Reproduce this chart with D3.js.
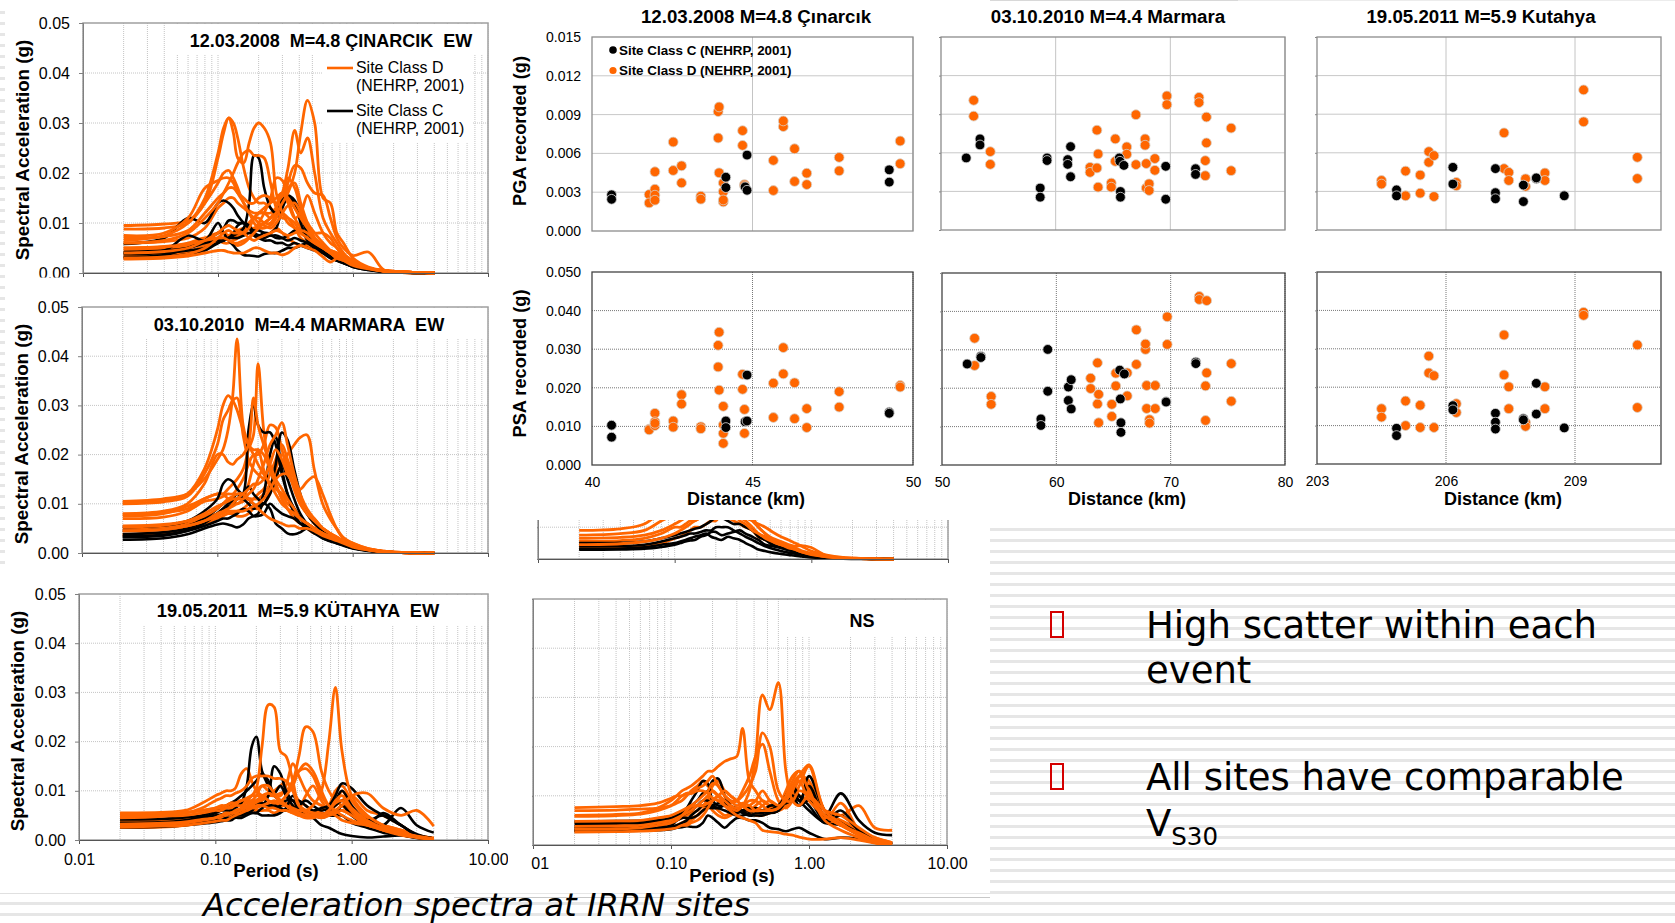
<!DOCTYPE html>
<html>
<head>
<meta charset="utf-8">
<style>
html, body { margin: 0; padding: 0; background: #fff; }
svg { display: block; font-family: "Liberation Sans", Arial, sans-serif; }
</style>
<script src="https://cdn.jsdelivr.net/npm/d3@7"></script>
</head>
<body>
<svg id="chart" width="1675" height="923"></svg>
<script>
// periods (s) shared by all the spectra, values below are in 0.001 g
var periods = [0.02,0.04,0.06,0.08,0.10,0.11,0.12,0.13, 0.14,0.155,0.17,0.185,0.20,0.22,0.245,0.27, 0.30,0.33,0.37,0.41,0.46,0.52,0.60,0.68, 0.76,0.85,1.0,1.3,1.7,2.3,3.0,4.0];

var ew2008D = [
 [6.5,7.5,10,15,24,29,31,28, 23,22,26,29,30,29,26,16, 12,10,9,8,7,6,5,4.5, 4,3,2,1,.5,.2,.1,0],
 [9.5,9.8,10.5,14,23,28,31,30, 27,21,17,15,14,14,13,12, 12,11,9,7,6,5,4,3.5, 3,2.5,2,1,.5,.2,.1,0],
 [5,5.2,5.8,6.5,7,7,6.5,6, 6,6.5,7,8,9,10,11,12, 14,16,20,28,34.5,30,15,14, 8,6,3,1.2,.5,.2,.1,0],
 [4.5,4.8,5.5,7,8,8,7.5,7.5, 8,9,10,11,12,12,11,13, 16,21,28.5,24,27,20,11,8, 6,4,2.2,1,.4,.2,.1,0],
 [6,6.5,8,11,14,16,18,20, 22,24,24.5,23.5,23.5,23,18,13, 11,11,10,8,7,6,5,4, 3.5,3,2,1,.4,.2,.1,0],
 [8.8,9,10,14,18,20,20.5,19, 17,14,12.5,12,12,12,12,13, 14,15,13,11,9,7,5.5,4.5, 4,3,2,1,.4,.2,.1,0],
 [7.5,8,11,17,18.5,19,19,18, 16,14,12,11,10,9.5,9,10, 12,13.5,14,12,9,7,5,4, 3,2.5,1.8,.9,.4,.2,.1,0],
 [3.5,3.7,4.3,5.5,6.5,7,7.5,8, 8.5,9,9,9,9.5,10,11,13, 15,18,21.5,21,18,16,15.5,11, 7,5,3.5,4.2,.6,.2,.1,0],
 [3,3.2,3.8,5,7,8,8.5,8, 8,8,9,11,12,13,14,15, 16,14,11,12,15.5,12,8,6, 5,3,2,1,.4,.2,.1,0],
 [6,6.3,7,9,13,14,15,15, 14,13,12,10,9,9,9.5,11, 14,19,17,13,10,8,6,4.5, 3.5,3,2,1,.4,.2,.1,0],
 [2.8,3,3.4,4,4.5,4.5,4.2,4, 4,4,4.5,5,5,4.5,4,4, 3.6,4,5,5.5,5,4.5,3.2,2.2, 3,3.5,2.5,1,.4,.2,.1,0],
 [5,5.3,6,7,6.5,6,6,6.5, 7,8,8,7.5,7,7,8,9, 8,7,6,5.5,5.5,5,4.5,4, 3,2.5,1.5,.8,.3,.1,0,0],
 [4,4.3,5,6.5,8,9,9.5,9, 8.5,8,7,6.5,7,7.5,8,8.5, 8,7.5,8,8.5,8,6.5,5,4, 3,2.5,1.5,.8,.3,.1,0,0],
 [3.2,3.4,4,5.5,6.5,7,7,7, 7.5,8.5,10,11,11,10,10,12, 15,17,18,14,10,7,5,4, 3.5,3,2,1,.4,.2,.1,0],
 [7,7.3,8.5,12,15,16,17,17, 16,15,14,14,15,15.5,15,14, 16,15,13,11,9,8,8,7, 5,3.5,2,1,.4,.2,.1,0],
 [4,4.2,5,6,7,7,6.5,6, 5.5,6,7,8.5,10,12,15,19, 18.5,15,11,9,7,6,5,4, 3,2.5,1.5,.7,.3,.1,0,0]
];
var ew2008C = [
 [5.8,7,11,10,14,14.5,14,13, 11.5,10,9,8.5,8.5,8,7.5,7.5, 7,6.5,7,6.5,6,5,4,3, 2.5,2,1.3,.7,.3,.1,0,0],
 [4,4.5,7.5,6.5,10,8,6.5,5.5, 4.5,3.6,3.5,3.4,3.3,3.8,4,4, 4.5,5,5,5.5,6,5,4,3, 2.5,2,1.2,.6,.3,.1,0,0],
 [3.8,4,4.5,5,6,6.5,7,7.5, 8,9,14,23.5,23,17,13,12, 14.5,15.5,14.5,11.5,8,6,4.5,3.5, 3,2.3,1.5,.8,.4,.1,0,0],
 [3.2,3.6,5,6.5,8,9,10.5,10.5, 10,10,9.5,8,7.5,7,7.5,7, 7,7.5,8.5,8.5,6.5,5,4,3.5, 2.8,2.2,1.4,.7,.3,.1,0,0],
 [3,3.2,3.8,4.5,6,6.5,7,8, 9.5,10,9,7.5,7,6.5,6.5,6, 6,5.5,6,5.5,5,4.5,4,3.2, 2.5,2,1.2,.6,.2,.1,0,0],
 [4.2,4.5,5,6,6.5,6.5,7,7, 7,7.5,8,8,7.5,8,8,9, 13,15,14,10,7,5.5,4.5,3.5, 3,2.3,1.4,.7,.3,.1,0,0]
];

var ew2010D = [
 [10.5,11,12,15,19,21,25,32, 43.5,26,22,21,21,20,17,14, 11,9,8,7,6,5,4,3, 3,2.5,1.6,.8,.3,.1,0,0],
 [7.5,8,9.5,11,12,12,13,14, 15,17,21,24,38.5,25,17,14, 11,9,7,6,5,4,3.5,3, 2.5,2,1.2,.6,.2,.1,0,0],
 [10.2,10.6,12,17,25,30,32,31, 29,25,22,20,18,16,14,12, 10,9,8,7,6,5,4,3.2, 2.8,2.2,1.4,.7,.3,.1,0,0],
 [10,10.4,11.5,16,22,27,29,31, 31.5,24,19,17,16,15,14,13, 12,10,9,7,6,5,4,3, 2.8,2.2,1.4,.7,.3,.1,0,0],
 [8,8.5,10,14,20,20,18.5,18, 19,20,22,31.5,26,22,18,15, 13,11,9,7,6,5,4,3.5, 3,2.3,1.5,.7,.3,.1,0,0],
 [7,7.3,8.5,10.5,11,11.5,12,12, 13,15,18,20,20,22,26,25.5, 21,17,13,10,8,6.5,5,4, 3.2,2.5,1.5,.8,.3,.1,0,0],
 [5.3,5.6,6.5,8,9.5,10,10.5,11, 11,11,12,13,15,18,22,24, 26.5,22,16,12,9,7,5,4, 3.3,2.5,1.5,.7,.3,.1,0,0],
 [5,5.3,6,7,8,8.5,9,9.5, 10,10.5,11,11,11,12,14,16, 18,20,22,23.5,24,17,10,7, 5,3.2,2,.9,.4,.1,0,0],
 [4.5,4.8,5.5,6.5,7.5,8,8.5,8.5, 8.5,8.5,9,9.5,10,11,13,15, 16,16,14,13,14.5,15.5,12,8, 5,3,2,.9,.4,.1,0,0],
 [7.8,8.2,9,11,12,12,11,10.5, 10,11,14,18,21,17,14,13, 12,11,9,7,6,5,4,3, 2.5,2,1.2,.6,.2,.1,0,0],
 [4.5,4.8,5.5,6.5,8,8.5,9,10, 11,12,13,14,14,15,18,21, 19,16,14,11,8,6.5,5,4, 3.2,2.5,1.5,.7,.3,.1,0,0],
 [3.8,4.2,5,6.5,8,8.5,8.5,8, 7.5,7.5,8,9,9,10,12,17, 20,18,13,10,8,7,5,4, 3,2.5,1.4,.7,.3,.1,0,0],
 [5.5,5.8,6.5,7.5,9,10,11,11.5, 12,12,11,10,9,8,7,6.5, 6,5.5,5.5,5,5,4.5,3.5,3, 2.5,2,1.2,.6,.2,.1,0,0],
 [3.6,4,5,6,7,7.5,8,8, 8.5,9,10,11,12,13,16,19, 22,19,15,11,8,6,4.5,3.5, 3,2.3,1.4,.7,.3,.1,0,0]
];
var ew2010C = [
 [3.2,3.5,4.5,6,8,9,10,10.5, 11,12,25,30,26,24.5,24.5,22, 16,12,9,7,5.5,4.5,3.5,2.8, 2.2,1.7,1,.5,.2,.1,0,0],
 [5.3,5.6,6.5,8.5,11,14,15,14.5, 13,12,13.5,12,11,10,13,18, 24.5,23,17,12,8,6,4.5,3.5, 2.8,2.2,1.4,.7,.3,.1,0,0],
 [4.5,4.8,5.5,7,9,10,10.5,11, 12,11,10,9,9.5,12,20,23.5, 17,12,8,6,5,4,3,2.5, 2,1.6,1,.5,.2,.1,0,0],
 [2.7,3,3.8,5,5.8,6,5.8,5.5, 5.2,5.8,7,7.5,8,10,9,6, 5,4,3.8,4.2,5,4.5,3,2.4, 2,1.5,.9,.4,.2,.1,0,0],
 [3.8,4.2,5,6.5,8,9,9.5,10, 11,12,11,10,9.5,10,12,15, 18,15,11,8,6,5,4,3, 2.5,1.9,1.2,.6,.2,.1,0,0],
 [3.4,3.7,4.5,5.5,6.5,7,7,7.5, 8,9,8.5,7.5,7.5,8,10,9, 8,7.5,7,6,5.5,4.5,3.5,3, 2.3,1.8,1.1,.5,.2,.1,0,0]
];

var ew2011D = [
 [4.5,4.8,5.5,6,6.5,6.5,7,7.5, 7.5,8,8.5,9,10.5,19,27.5,27, 18,17,12,7,5.5,5,5,5.5, 5,4,3.5,3,2.5,1.5,.6,.2],
 [3.5,3.7,4,5,6,6.5,7,7, 7.5,7.5,8,8,8,8.5,9,9, 9.5,10,12,17,23,22,14,10, 8,7,5.5,3.5,2.5,1.5,.8,.3],
 [3,3.2,3.5,4,4.5,5,5,5.5, 5.5,6,6,6.5,6.5,7,7.5,8, 7.5,7,6.5,6,6,7,10,20, 31,18,9,5,3,1.5,.8,.3],
 [5.5,5.6,6,7.5,9,9.5,10,10, 10.5,13.5,14.5,12,10,9,8,7.5, 7,7,8,7,6,5.5,5,5, 5.5,7,6,4,3,2,1,.4],
 [5,5.2,5.5,6.5,8,8.5,9,9, 9.5,10,11,12.5,13,13,13,12.5, 12.5,12,10,7,6,5.5,5,5, 5.5,6,5,3,2.5,1.5,.7,.2],
 [4,4.2,4.5,5,5.5,6,6.5,7, 7.5,8,8,9,10,11,10,9, 9,11,15.5,13,10,8,7,6, 6,7,5,4,3,2,1,.4],
 [3.2,3.4,3.7,4.2,4.5,5,5.5,5.5, 6,6.5,7,7.5,8,9,9.5,9, 8,9,11,14,15.5,14,10,7, 6,5,4,3,2,1.2,.6,.2],
 [2.8,3,3.3,3.8,4.5,4.5,5,5, 5,5.5,6,6.5,7,7.5,7,7, 7.5,9,12,14,14.5,13,9,7, 7,10,7,4,3,1.5,.8,.3],
 [5.3,5.4,5.6,6,6.5,7,7,7.5, 7.5,8,8.5,9,9,9,8,7.5, 8,7,6,5.5,5,5,4.5,5, 6,7,9,9.5,6.5,5,6,2.8],
 [2.5,2.6,3,3.5,3.8,4,4,4.5, 4.5,5,5.5,6,6,6,6,5.5, 6,6,5.5,5,5,5.5,6,7, 10,11,8,4.5,3,1.5,.7,.2],
 [4.7,4.9,5,5.5,6,6,6.5,6.5, 7,7,7.5,8,9,11,11,9.5, 8,7,6,5.5,5,5,5,6, 8,9,6.5,4,2.5,1.5,.7,.2],
 [3.8,4,4.2,4.5,5,5,5.5,5.5, 5.5,6,6.5,7,8,8.5,9,10, 11,12,10,8,7,6,5.5,5.5, 7,8,9,6,5,3,1,.3],
 [2.6,2.8,3,3.4,3.8,4,4,4.5, 5,5.5,6,6.5,7,7,6.5,6.5, 6,6,5.5,5,4.5,4.5,5,6, 7.5,8,6,3.5,2,1,.5,.1],
 [3.3,3.5,3.8,4.3,5,5,5.5,6, 6,6,6.5,7,7.5,8,9,9, 8,7.5,7,6.5,9,11,8,6, 6,6,5,3,2,1,.5,.1]
];
var ew2011C = [
 [3,3.1,3.5,4.2,5,5.2,5.5,6, 6.5,7.5,11,19,21,14,11,9, 8,7,6.5,6,5.5,5,5,5, 5,5,3.5,2.5,1.5,1,.4,.1],
 [4.2,4.3,4.6,5,6,6.5,7,7.5, 8,9,10,11,12,13.5,12,9.5, 11,9,7,5.5,5,5,4.5,5, 5,7,5,3,5.5,3,1.2,.3],
 [3,3.1,3.4,3.8,4,4,4.5,4.5, 5,5,5.5,6,7,7,9,15, 13.5,10,8,8,7,6,6.5,7, 9,11.5,10.5,7,5,3,1,.3],
 [2.6,2.7,3,3.3,3.6,3.8,4,4, 4.5,4.5,5,5.5,5.5,5,5,5, 5.5,6.5,9,7,5,4.5,3,2.5, 1.8,1.2,.8,.5,.7,.9,.5,.1],
 [2.8,2.9,3.2,3.8,4.5,5,5,5.5, 5.5,5.5,6,6,7,7.5,7,6.5, 7,8,8,6,5,5,5,6, 7,8,6,4,3,6.5,3,1.5],
 [3.5,3.6,4,4.6,5.5,6,6,6, 6,6,5.5,5.5,5.5,6.5,7,7, 6.5,6,6.5,7,8,7,6,6.5, 8,10,7,4,5,3,1,.3]
];

var ns2011D = [
 [7.6,7.8,8,8.5,9.5,10,10,10.5, 10.5,11,11,10.5,9.5,9,8,7.5, 7,8,11,18,30.5,27.5,33,15, 9,8,10,7,6,3.5,1.5,.5],
 [6,6.2,6.5,7.5,9,10,11,11.5, 12,13,14,15,15,16,17,17.5, 18,23.7,13,11,9,8,7.5,8, 9,10,9,6,4.5,3,1.5,.5],
 [5.8,6,6.3,7,8,9,10,10.5, 10.5,11.5,12,13,14,12,10,9, 9,10,12,15,22.8,20,11,9, 9,11,10,6,4,2.5,1,.3],
 [7,7.1,7.3,7.5,8,8.5,9,10, 11,12,13,12,11,10,9,8.5, 9,11,14,18,20.5,15,9,7.5, 9,12,16,7,5,3,1,.3],
 [3.2,3.3,3.5,4,4.5,5,6,7, 8,9,10,11,12.5,12,10,9, 8,8.5,8,7,7,7,7.5,9, 11,14,16.3,7,4.5,2,.5,.1],
 [4.5,4.6,4.8,5,5.5,6,6.5,7, 7.5,8,8,8,7,6,5.5,6, 7,8,7.5,7,7,7.5,8,11, 14,15,10,6,5,3,1,.3],
 [3.8,3.9,4,4.5,5,5.5,6,6.5, 7,8,9,10,11,10,8,7, 6,5.5,5,4.5,3,2.7,2.5,2.2, 2,1.6,1.2,1.2,1.5,1,.4,.1],
 [2.9,3,3.1,3.3,3.5,4,4.5,5, 5.5,6,7,8,8,7,6,6.5, 7,7,6.5,6,6,6.5,7,9, 12,14,13,5.5,4,2.5,.8,.1],
 [2.6,2.7,2.8,3,3.3,3.5,4,4, 4.5,5,6,7.5,9,10,9,8, 7.5,8,9,9,8,7,7.5,10, 13,15,11,5,3,1.5,.5,.1],
 [3.5,3.6,3.8,4,4.5,5,5.5,6, 6.5,7,8,9,9.5,9,8,7, 6.5,7,8,9,11,9,7.5,8, 10,13,12,7,6,8,3.5,3],
 [4.8,4.9,5,5.5,6,6.5,7,7.5, 8,8,8,8.5,9,10,11,10, 9,8,7,7,8,9,8,9, 12,13,9,6,4,2,.6,.2],
 [2.8,2.9,3,3.2,3.5,3.8,4,4.5, 5,6,7,9,12,13,11,10, 9,8,7,8,9,8,7,8, 11,14,12,5,8.5,3,1,.2]
];
var ns2011C = [
 [4.8,4.85,4.9,5,5.5,6,6.5,7.5, 9,11,13,12.5,9,8,8,7.5, 7,6.5,6,6,6,6.5,7,9, 10,9,7,4.5,4,2,.8,.2],
 [3.4,3.45,3.5,3.6,4,5,6,7, 8,9,10.5,11,13,13.5,10,8, 7.5,7,6,6.5,6.5,7,8,9, 10,8,14,7,4.5,2.5,1,.2],
 [2.8,2.85,2.9,3,3.2,3.5,3.6,3.8, 3.7,3.7,4.5,6,5.5,4.5,3.5,4.5, 5.5,5.5,5,5,4.5,3.5,3.2,2.8, 3.2,3.5,2.5,1.2,1.5,1.2,.5,.1],
 [3.8,3.85,3.9,4,4.5,5,5.5,5.5, 5.5,6,7,7.5,7.5,7.5,8,7, 6.5,7,7,7.5,7,7,8,10, 12,9,12,6,10.5,5,2.5,2],
 [3,3.05,3.1,3.3,3.7,4,4.5,5, 6,7,8,8,8,8.5,8.5,7.5, 7,7,7.5,7,7,8,8,8.5, 9,8,9,5,7,3,1.2,.3],
 [4.3,4.35,4.4,4.6,5,5.5,6,6.5, 7,8,9,9,8,7.5,7,6.5, 6,6,6.5,7,7,6.5,7,9, 12,10,8,4.5,6,3,1,.3]
];

// the panel behind the scatter plots, only its lower part shows
var hiddenD = [
 [9,9.5,11,15,18,20,22,20, 18,17,18,20,22,20,18,16, 14,13,12,11,10,8.5,7,6, 5,4,2.5,1.2,.5,.2,.1,0],
 [7.5,8,9,12,14,15,15,16, 16,16,18,19,20,19,18,16, 15,14,13,10,8,6.5,5.5,4.5, 4,4.2,3.6,1,.4,.2,.1,0],
 [6.5,6.8,7.5,9,11,12,13,14, 15,15,14,14,15,16,17,18, 17,15,12,10,8,6,5,4, 3,2.2,1.5,.7,.3,.1,0,0],
 [5.5,5.8,6.5,8,10,10,11,12, 12,13,13,14,14,15,16,14, 13,12,10,8,7,6,5,4, 3.5,2.6,1.8,.8,.3,.1,0,0],
 [4.5,4.8,5.5,6.5,8,9,10,11, 12,13,14,14,14,14,15,14, 12,11,9,8,6.5,5.5,4.5,3.5, 3,2.2,1.4,.7,.3,.1,0,0],
 [3.5,3.7,4.2,5,6.5,7,8,9, 10,10,11,12,12,14,13,12, 11,10,9,7,6,5,4,3.2, 2.8,2,1.4,.6,.2,.1,0,0]
];
var hiddenC = [
 [5,5.1,5.5,6.5,7.5,8,8.5,9, 9.5,10,11,12,13,13,12,11, 11,10,9,7,6,4.5,3.5,2.8, 2.4,1.8,1,.4,.2,.1,0,0],
 [4,4.1,4.5,5.5,6.5,7,7.5,8, 8,8.5,9,9,10,10,10,9, 8,7,6,5,4,3.2,2.5,2, 1.7,1.3,.8,.4,.2,.1,0,0],
 [3.2,3.3,3.7,4.5,5,5.5,6,6.5, 7,7.5,8,7,6.5,6,7,6.5, 6,5,4,3,2.5,2,1.6,1.3, 1,.8,.5,.3,.1,0,0,0],
 [2.9,3,3.2,3.8,4.5,5,5.5,5.8, 6,7,7.5,8.5,8.5,7.5,8,8.5, 9,8,7,6,4.5,4,3.5,2.8, 2.2,1.7,1,.5,.2,.1,0,0]
];

// scatter plots, distance in km, PGA and PSA in 0.001 g
var dist2008D = [41.78,41.78,41.96,41.96,41.96,41.96,42.53,42.53,42.79,42.79,43.39,43.39,43.93,43.96,43.93,43.96,44.09,44.09,44.09,44.09,44.69,44.69,44.75,44.75,45.65,45.65,45.96,45.96,46.31,46.31,46.69,46.69,47.7,47.7,49.6,49.6];
var pga2008D = [2.82,2.17,4.58,3.23,2.77,2.38,6.88,4.68,5.04,3.72,2.69,2.46,9.23,9.59,7.19,4.5,3.72,3.03,2.25,2.4,7.76,6.62,3.59,3.5,5.46,3.13,8.07,8.51,6.36,3.83,4.47,3.59,5.69,4.65,6.96,5.2];
var psa2008D = [9.3,9.1,13.4,11.2,10.2,10.8,11.4,9.8,18.2,15.8,9.9,9.4,31,34.4,25.4,19.4,15.2,10.4,8.2,5.6,23.5,19.6,14.4,8.2,21.2,12.3,30.4,23.6,21.3,12,14.6,9.7,19,15,20.6,20.2];
var dist2008C = [40.61,40.61,44.17,44.17,44.77,44.83,44.83,49.26,49.26];
var pga2008C = [2.8,2.45,4.16,3.36,3.41,3.15,5.87,4.73,3.78];
var psa2008C = [10.3,7.2,11.4,9.7,11.2,11.4,23.3,13.7,13.4];

var dist2010D = [52.85,52.85,54.3,54.3,63.0,63.0,63.6,63.6,63.7,63.7,64.85,64.85,65.2,65.2,66.2,66.2,67,67,67.8,67.8,67.9,67.9,68.15,68.15,68.65,68.65,69.7,69.7,72.5,72.5,73.15,73.15,73.05,73.05,75.3,75.3];
var pga2010D = [10.08,8.85,6.09,5.1,4.87,4.48,7.76,4.82,5.91,3.33,3.65,3.33,7.08,5.34,6.46,5.89,8.96,5.08,7.08,6.59,5.16,3.26,3.59,3.07,5.55,4.64,10.42,9.74,10.31,9.9,8.78,6.77,5.39,4.22,7.92,4.61];
var psa2010D = [33,25.9,17.85,15.8,22.6,19.9,26.6,15.9,18.4,11,15.8,12.65,23.9,20.6,24,18,35.2,26.2,30.1,31.5,20.7,14.7,11.8,10.9,20.7,14.7,38.6,31.4,43.9,43.1,42.8,24,20.6,11.6,26.4,16.6];
var dist2010C = [52.2,53.4,53.4,58.65,58.65,59.25,59.25,61.05,61.05,61.3,61.3,65.65,65.65,65.55,65.6,65.95,69.6,69.6,72.2,72.2];
var pga2010C = [5.6,7.08,6.61,3.26,2.55,5.6,5.4,5.47,5.1,6.48,4.14,2.99,2.55,5.6,5.34,5.02,4.95,2.39,4.76,4.32];
var psa2010C = [26.3,28.3,28,12,10.3,30.1,19.2,16.8,20.3,22.2,14.6,11,8.5,24.7,17.2,23.7,16.5,16.4,26.8,26.4];

var dist2011D = [204.5,204.5,205.06,205.06,205.4,205.4,205.6,205.6,205.72,205.72,206.24,206.24,207.35,207.35,207.46,207.46,207.85,207.85,208.3,208.3,209.2,209.2,210.45,210.45];
var pga2011D = [3.85,3.57,4.58,2.66,4.27,2.86,6.09,5.26,5.78,2.6,3.7,3.44,4.77,7.55,4.48,3.85,3.98,3.39,4.43,3.85,10.89,8.41,5.65,4];
var psa2011D = [14.4,12.2,16.4,10,15.3,9.5,28.1,23.7,23,9.5,15.7,13.4,23.2,33.6,20.1,14.4,10.8,9.8,20.1,14.4,39.5,38.7,31,14.7];
var dist2011C = [204.85,204.85,206.16,206.16,207.15,207.15,207.15,207.8,207.8,208.1,208.1,208.75];
var pga2011C = [3.12,2.66,4.87,3.57,4.77,2.9,2.43,3.49,2.21,3.98,4.05,2.66];
var psa2011C = [9.3,7.4,15.2,14.1,13.2,10.9,9.1,11.8,11.5,21,13,9.4];

var yTicksSpectra = [0,10,20,30,40,50];
var xTicksSpectra = [0.01,0.1,1,10];
var legendLabels = ["Site Class C (NEHRP, 2001)","Site Class D (NEHRP, 2001)"];

var orange = "#ff6600";
var svg = d3.select("#chart");

// striped slide background, the pasted pictures sit on white boxes over it
svg.selectAll("rect.stripe").data(d3.range(0, 84)).enter().append("rect")
   .attr("class", "stripe")
   .attr("x", 0).attr("width", 1675)
   .attr("y", function(d) { return 11 + d * 11; })
   .attr("height", 3)
   .attr("fill", "#e6e6e6");

function whiteBox(x, y, w, h) {
   svg.append("rect").attr("x", x).attr("y", y).attr("width", w).attr("height", h).attr("fill", "#fff");
}
whiteBox(5, 0, 985, 893);
whiteBox(990, 0, 685, 527);
whiteBox(0, 0, 5, 10);
whiteBox(0, 566, 5, 327);
svg.append("rect").attr("x", 500).attr("y", 0).attr("width", 1175).attr("height", 1).attr("fill", "#ececec");
svg.append("rect").attr("x", 990).attr("y", 0).attr("width", 248).attr("height", 1).attr("fill", "#d8d8d8");
svg.append("rect").attr("x", 0).attr("y", 893).attr("width", 454).attr("height", 1).attr("fill", "#e0e0e0");
svg.append("rect").attr("x", 454).attr("y", 897).attr("width", 536).attr("height", 1).attr("fill", "#c8c8c8");

function drawSpectra(o) {
   var x = d3.scaleLog().domain([0.01, 10]).range([o.left, o.right]);
   var y = d3.scaleLinear().domain([0, 50]).range([o.bottom, o.top]);
   var g = svg.append("g");

   // grid
   g.selectAll("line.v").data(x.ticks()).enter().append("line")
    .attr("x1", function(d) { return x(d); }).attr("x2", function(d) { return x(d); })
    .attr("y1", o.top).attr("y2", o.bottom)
    .attr("stroke", "#c4c4c4").attr("stroke-dasharray", "1,1");
   g.selectAll("line.h").data(yTicksSpectra.slice(1, 5)).enter().append("line")
    .attr("y1", function(d) { return y(d); }).attr("y2", function(d) { return y(d); })
    .attr("x1", o.left).attr("x2", o.right)
    .attr("stroke", "#c4c4c4").attr("stroke-dasharray", "1,1");

   // white boxes behind the title and legend
   o.boxes.forEach(function(b) {
      g.append("rect").attr("x", b[0]).attr("y", b[1]).attr("width", b[2]).attr("height", b[3]).attr("fill", "#fff");
   });

   g.append("rect").attr("x", o.left).attr("y", o.top)
    .attr("width", o.right - o.left).attr("height", o.bottom - o.top)
    .attr("fill", "none").attr("stroke", "#a0a0a0").attr("stroke-width", 1.5);

   var line = d3.line()
      .x(function(d, i) { return x(periods[i]); })
      .y(function(d) { return y(d); })
      .curve(d3.curveCatmullRom.alpha(0.5));

   function drawSet(rows, color, w) {
      g.append("g").selectAll("path").data(rows).enter().append("path")
       .attr("d", line).attr("fill", "none")
       .attr("stroke", color).attr("stroke-width", w).attr("stroke-linejoin", "round");
   }
   // black goes between the orange ones, like in the original
   drawSet(o.siteD.filter(function(d, i) { return i % 2 == 1; }), orange, 2.8);
   drawSet(o.siteC, "#000", 2.6);
   drawSet(o.siteD.filter(function(d, i) { return i % 2 == 0; }), orange, 2.8);

   var ax = g.append("g").attr("transform", "translate(0," + o.bottom + ")")
      .call(d3.axisBottom(x).tickValues(xTicksSpectra).tickSize(4)
      .tickFormat(o.xLabels ? d3.format(".2f") : ""));
   var ay = g.append("g").attr("transform", "translate(" + o.left + ",0)")
      .call(d3.axisLeft(y).tickValues(yTicksSpectra).tickSize(o.yLabels ? 4 : 1)
      .tickFormat(o.yLabels ? function(d) { return d3.format(".2f")(d / 1000); } : ""));
   ax.selectAll("text").attr("font-size", 16).attr("font-family", "Liberation Sans").attr("dy", o.xLabelDy || 18);
   ay.selectAll("text").attr("font-size", 16).attr("font-family", "Liberation Sans").attr("dx", -6);
   ax.selectAll("path,line").attr("stroke", "#555");
   ay.selectAll("path,line").attr("stroke", "#808080");

   if (o.yLabels) {
      g.append("text").attr("transform", "translate(" + o.yTitleX + "," + ((o.top + o.bottom) / 2 + o.yTitleShift) + ") rotate(-90)")
       .attr("text-anchor", "middle").attr("font-size", 18.8).attr("font-weight", "bold")
       .attr("dy", 6).text("Spectral Acceleration (g)");
   }
   if (o.title) {
      g.append("text").attr("x", o.title[1]).attr("y", o.title[2]).attr("text-anchor", "middle")
       .attr("font-size", o.title[3]).attr("font-weight", "bold").attr("xml:space", "preserve").text(o.title[0]);
   }
   if (o.periodX) {
      g.append("text").attr("x", o.periodX).attr("y", o.periodY).attr("text-anchor", "middle")
       .attr("font-size", 18.5).attr("font-weight", "bold").text("Period (s)");
   }
}

function drawScatter(o) {
   var x = d3.scaleLinear().domain(o.xDomain).range([o.left, o.right]);
   var y = d3.scaleLinear().domain(o.yDomain).range([o.bottom, o.top]);
   var g = svg.append("g");
   var dark = o.dottedGrid;

   g.selectAll("line.v").data(o.xTicks.slice(1)).enter().append("line")
    .attr("x1", function(d) { return x(d); }).attr("x2", function(d) { return x(d); })
    .attr("y1", o.top).attr("y2", o.bottom)
    .attr("stroke", dark ? "#777" : "#c4c4c4").attr("stroke-dasharray", dark ? "1,1" : null);
   g.selectAll("line.h").data(o.yTicks.slice(1, -1)).enter().append("line")
    .attr("y1", function(d) { return y(d); }).attr("y2", function(d) { return y(d); })
    .attr("x1", o.left).attr("x2", o.right)
    .attr("stroke", dark ? "#777" : "#c8c8c8").attr("stroke-dasharray", dark ? "1,1" : null);

   g.append("rect").attr("x", o.left).attr("y", o.top)
    .attr("width", o.right - o.left).attr("height", o.bottom - o.top)
    .attr("fill", "none").attr("stroke", dark ? "#444" : "#8c8c8c").attr("stroke-width", 1.3);

   function dots(dist, vals, color, stroke) {
      g.append("g").selectAll("circle").data(dist).enter().append("circle")
       .attr("cx", function(d) { return x(d); })
       .attr("cy", function(d, i) { return y(vals[i]); })
       .attr("r", 4.9).attr("fill", color)
       .attr("stroke", stroke).attr("stroke-width", 0.8);
   }
   dots(o.distD, o.valD, orange, "#d8d0c8");
   dots(o.distC, o.valC, "#000", "#ddd");

   var ay = g.append("g").attr("transform", "translate(" + o.left + ",0)")
      .call(d3.axisLeft(y).tickValues(o.yTicks).tickSize(o.yTitle ? 0 : 2)
      .tickFormat(o.yTitle ? function(d) { return d3.format(".3f")(d / 1000); } : ""));
   ay.selectAll("text").attr("font-size", 14).attr("font-family", "Liberation Sans").attr("dx", -8);
   ay.select(".domain").remove();
   ay.selectAll("line").attr("stroke", "#888");

   if (o.xLabels) {
      var ax = g.append("g").attr("transform", "translate(0," + o.bottom + ")")
         .call(d3.axisBottom(x).tickValues(o.xTicks).tickSize(0).tickFormat(d3.format("d")));
      ax.selectAll("text").attr("font-size", 14).attr("font-family", "Liberation Sans").attr("dy", 19);
      ax.select(".domain").remove();
      g.append("text").attr("x", o.labelX).attr("y", 505).attr("text-anchor", "middle")
       .attr("font-size", 18).attr("font-weight", "bold").text("Distance (km)");
   }
   if (o.yTitle) {
      g.append("text").attr("transform", "translate(520," + ((o.top + o.bottom) / 2 + o.yTitleShift) + ") rotate(-90)")
       .attr("text-anchor", "middle").attr("font-size", 18.2).attr("font-weight", "bold")
       .attr("dy", 6).text(o.yTitle);
   }
   if (o.title) {
      g.append("text").attr("x", o.titleX).attr("y", 23).attr("text-anchor", "middle")
       .attr("font-size", 18.7).attr("font-weight", "bold").text(o.title);
   }
   if (o.legend) {
      [0, 1].forEach(function(i) {
         var ly = 50 + i * 20.5;
         g.append("circle").attr("cx", 613).attr("cy", ly).attr("r", i == 0 ? 3.8 : 3.6)
          .attr("fill", i == 0 ? "#000" : orange);
         g.append("text").attr("x", 619).attr("y", ly + 4.5).attr("font-size", 13.4)
          .attr("font-weight", "bold").text(legendLabels[i]);
      });
   }
}

// spectra panels
drawSpectra({ left: 538, right: 948, top: 400, bottom: 559, siteD: hiddenD, siteC: hiddenC, boxes: [] });
whiteBox(500, 0, 490, 520);

drawSpectra({ left: 83, right: 488, top: 23, bottom: 273, siteD: ew2008D, siteC: ew2008C, yLabels: true, yTitleX: 23, yTitleShift: 2,
   boxes: [[170, 24, 318, 30], [322, 54, 150, 88]],
   title: ["12.03.2008  M=4.8 ÇINARCIK  EW", 331, 47, 18] });
// legend inside the first spectra panel
[["Site Class D", "(NEHRP, 2001)", orange, 73], ["Site Class C", "(NEHRP, 2001)", "#000", 116]].forEach(function(r) {
   svg.append("line").attr("x1", 327).attr("x2", 353).attr("y1", r[3] - 5).attr("y2", r[3] - 5)
      .attr("stroke", r[2]).attr("stroke-width", 2.6);
   svg.append("text").attr("x", 356).attr("y", r[3]).attr("font-size", 15.9).text(r[0]);
   svg.append("text").attr("x", 356).attr("y", r[3] + 18).attr("font-size", 15.9).text(r[1]);
});
whiteBox(5, 277.5, 490, 13);

drawSpectra({ left: 82, right: 488, top: 307, bottom: 553, siteD: ew2010D, siteC: ew2010C, yLabels: true, yTitleX: 22, yTitleShift: 4,
   boxes: [[133, 308, 355, 30]],
   title: ["03.10.2010  M=4.4 MARMARA  EW", 299, 331, 18.1] });

drawSpectra({ left: 79, right: 488, top: 594, bottom: 840, siteD: ew2011D, siteC: ew2011C, yLabels: true, yTitleX: 18, yTitleShift: 4, xLabels: true,
   boxes: [[127, 595, 361, 30]],
   title: ["19.05.2011  M=5.9 KÜTAHYA  EW", 298, 617, 18.3], periodX: 276, periodY: 877 });

drawSpectra({ left: 533, right: 947, top: 599, bottom: 845, siteD: ns2011D, siteC: ns2011C, xLabels: true, xLabelDy: 17,
   boxes: [[787, 600, 160, 37]],
   title: ["NS", 862, 627, 18], periodX: 732, periodY: 882 });
// the first label of this panel is cut by the picture next to it
whiteBox(508, 853, 23, 22);

// scatter panels
drawScatter({ left: 592, right: 913, top: 37, bottom: 231, xDomain: [40, 50], xTicks: [40, 45, 50], yDomain: [0, 15], yTicks: [0, 3, 6, 9, 12, 15],
   distD: dist2008D, valD: pga2008D, distC: dist2008C, valC: pga2008C, yTitle: "PGA recorded (g)", yTitleShift: -3, title: "12.03.2008 M=4.8 Çınarcık", titleX: 756, legend: true });
drawScatter({ left: 941, right: 1285, top: 37, bottom: 230, xDomain: [50, 80], xTicks: [50, 60, 70, 80], yDomain: [0, 15], yTicks: [0, 3, 6, 9, 12, 15],
   distD: dist2010D, valD: pga2010D, distC: dist2010C, valC: pga2010C, title: "03.10.2010 M=4.4 Marmara", titleX: 1108 });
drawScatter({ left: 1317, right: 1661, top: 37, bottom: 230, xDomain: [203, 211], xTicks: [203, 206, 209], yDomain: [0, 15], yTicks: [0, 3, 6, 9, 12, 15],
   distD: dist2011D, valD: pga2011D, distC: dist2011C, valC: pga2011C, title: "19.05.2011 M=5.9 Kutahya", titleX: 1481 });
drawScatter({ left: 592, right: 913, top: 272, bottom: 465, xDomain: [40, 50], xTicks: [40, 45, 50], yDomain: [0, 50], yTicks: [0, 10, 20, 30, 40, 50], dottedGrid: true, xLabels: true, labelX: 746,
   distD: dist2008D, valD: psa2008D, distC: dist2008C, valC: psa2008C, yTitle: "PSA recorded (g)", yTitleShift: -5 });
drawScatter({ left: 942, right: 1285, top: 273, bottom: 465, xDomain: [50, 80], xTicks: [50, 60, 70, 80], yDomain: [0, 50], yTicks: [0, 10, 20, 30, 40, 50], dottedGrid: true, xLabels: true, labelX: 1127,
   distD: dist2010D, valD: psa2010D, distC: dist2010C, valC: psa2010C });
drawScatter({ left: 1317, right: 1661, top: 272, bottom: 464, xDomain: [203, 211], xTicks: [203, 206, 209], yDomain: [0, 50], yTicks: [0, 10, 20, 30, 40, 50], dottedGrid: true, xLabels: true, labelX: 1503,
   distD: dist2011D, valD: psa2011D, distC: dist2011C, valC: psa2011C });

// slide text
var slideFont = "DejaVu Sans";
function slideText(txt, x, y) {
   return svg.append("text").attr("x", x).attr("y", y).attr("font-size", 37)
      .attr("font-family", slideFont).text(txt);
}
slideText("High scatter within each", 1146, 638);
slideText("event", 1146, 683);
slideText("All sites have comparable", 1146, 790);
var vs = slideText("V", 1146, 836);
vs.append("tspan").attr("font-size", 24.5).attr("dy", 9).text("S30");
[612, 764].forEach(function(by) {
   svg.append("rect").attr("x", 1051).attr("y", by).attr("width", 12).attr("height", 25)
      .attr("fill", "none").attr("stroke", "#d40000").attr("stroke-width", 2);
});
svg.append("text").attr("x", 203).attr("y", 916).attr("font-size", 32.2).attr("font-style", "italic")
   .attr("font-family", slideFont).text("Acceleration spectra at IRRN sites");
</script>
</body>
</html>
